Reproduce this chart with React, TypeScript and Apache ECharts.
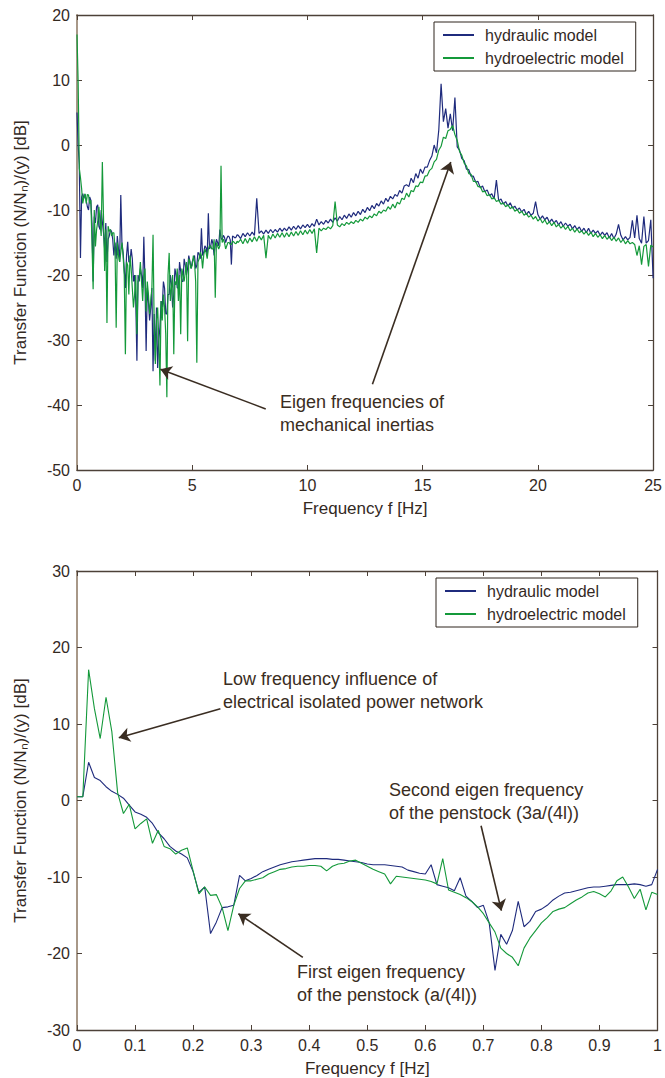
import React, { useEffect, useRef } from "react";
import * as echarts from "echarts";

// ---------- data ----------
// upper plot, 0 .. 6.95 Hz every 0.05 Hz (dense, noisy region)
const TOP_LOW_START = 0;
const TOP_LOW_STEP = 0.05;
const topHydraulicLow = [
  5, 0, -3, -17.4, -8, -7.5, -8.2, -7.6, -8.5, -9.5, -10, -8, -8.5, -12, -21, -11, -12, -9.5, -9.2, -12.5,
  -13, -10, -11.8, -13.5, -16, -12, -18, -14.5, -14, -13, -13.3, -14.5, -17, -15, -17.5, -14, -16, -18, -7.7, -15,
  -16.5, -19, -22, -17, -14.9, -18, -18, -16, -17.5, -21, -20, -24, -33.2, -20, -21, -19, -20, -22, -14.1, -21,
  -31.7, -22, -24, -27, -25, -22, -34.8, -26, -33.2, -25, -34.3, -30, -28, -24, -25, -21, -22, -26, -26, -23,
  -23, -20, -21.4, -25, -23, -19, -20, -22, -22, -18, -19.4, -21, -21, -17.5, -18.5, -20, -19, -17, -17.9, -19,
  -18, -17.5, -17, -19, -18.5, -16.5, -16.8, -17.5, -12.8, -17, -16.5, -15.5, -15.8, -17, -10.5, -16, -15.6, -14.5, -15.2, -17,
  -15.4, -14.5, -15, -15.5, -13, -14.3, -14.6, -13.9, -14.2, -15, -14.4, -14, -14.1, -14.6, -18.4, -14, -14.1, -14.3, -14.2, -13.8,
];
const topHydroelectricLow = [
  17, 9.6, -3.6, -5, -6.7, -9, -8, -7.5, -9, -7.6, -7.7, -9, -8.5, -15, -22.2, -10, -15.6, -13, -11.8, -9.5,
  -12, -14, -2.6, -11, -19.4, -13, -27.4, -12.5, -13.3, -13, -14, -13.5, -13.5, -16, -28.1, -15, -17, -18, -16.5, -15,
  -17, -20, -32.2, -18, -18.5, -23, -17, -19, -22, -25, -23, -20, -29.1, -21, -20.5, -18, -21, -24, -20, -19,
  -25.6, -21, -23, -26, -24, -22, -13.8, -28, -33.7, -27, -25, -30, -37, -24, -27, -23, -25, -29, -38.8, -20,
  -16.6, -24, -22, -20, -32.2, -21, -21.5, -19, -24, -20, -29.1, -19, -20, -21, -19.5, -18, -30.2, -17.5, -18, -19,
  -18.5, -17, -18, -21, -33.5, -18, -17.5, -16.5, -17, -19, -16.9, -16, -16.5, -17.5, -16, -15.5, -15.5, -16, -16, -14.5,
  -23.5, -15, -15.5, -16, -15.5, -3.2, -15, -14.5, -15, -16, -15.5, -15, -15, -15.3, -15.3, -14.8, -14.9, -15.1, -15.2, -14.8,
];
// upper plot, 7.0 .. 25.0 Hz every 0.1 Hz
const TOP_HIGH_START = 7;
const TOP_HIGH_STEP = 0.1;
const topHydraulicHigh = [
  -13.9, -14.4, -13.6, -14.1, -13.5, -14, -13.4, -13.9, -8.2, -13.6,
  -13.2, -13.7, -13.1, -13.6, -13, -13.5, -13, -13.4, -12.8, -13.3,
  -12.8, -13.2, -12.6, -13.1, -12.5, -13, -12.4, -12.9, -12.3, -12.7,
  -12.2, -12.7, -12.1, -12.5, -11.4, -12.3, -11.8, -12.2, -11.6, -12,
  -11.4, -11.9, -11.2, -11.7, -11, -11.5, -10.8, -11.3, -10.6, -11.1,
  -10.4, -10.9, -10.2, -10.7, -9.9, -10.4, -9.6, -10.1, -9.3, -9.8,
  -9, -9.4, -8.6, -9.1, -8.2, -8.7, -7.9, -8.3, -7.6, -7.9,
  -7, -7.4, -6.3, -6.1, -6.4, -5.1, -5.8, -4.4, -5.1, -3.7,
  -4.4, -3.4, -3.4, -2.4, -1.7, 0, -1.2, 2.3, 9.4, 3.6,
  5.6, 2.6, 4.8, 2.2, 7.3, -0.3, -0.8, -2.1, -2.4, -3.7,
  -3.8, -4.8, -4.8, -5.7, -5.6, -6.6, -6.3, -7.2, -6.9, -7.8,
  -7.5, -8.3, -5.4, -8.6, -8.3, -9.1, -8.7, -9.4, -8.9, -9.7,
  -9.4, -10, -9.7, -10.3, -9.9, -10.7, -10.2, -10.8, -10.5, -8.7,
  -10.7, -11.4, -10.9, -11.5, -11.1, -11.9, -11.4, -12, -11.6, -12.3,
  -11.8, -12.5, -12, -12.5, -12.2, -12.9, -12.4, -13, -12.6, -13.3,
  -12.8, -13.5, -12.8, -13.6, -13.1, -13.6, -13.2, -13.9, -13.4, -13.9,
  -13.5, -14.3, -13.6, -14.4, -13.7, -12.2, -13.9, -14.6, -14.1, -14.6,
  -14.2, -11.6, -14.3, -10.8, -14.4, -15.1, -11, -15.1, -14.7, -11.5,
  -20.5,
];
const topHydroelectricHigh = [
  -15, -14.5, -15.2, -14.4, -15.1, -14.3, -14.9, -14.1, -14.8, -14,
  -14.6, -13.9, -17.4, -13.9, -14.5, -13.7, -14.3, -13.6, -14.2, -13.5,
  -14.2, -13.5, -14.1, -13.4, -14, -13.3, -13.9, -13.2, -13.8, -13.1,
  -13.7, -13, -13.6, -12.9, -16.6, -12.8, -13.2, -12.8, -13, -12.6,
  -12.9, -12.4, -8.7, -12.3, -12.6, -12.1, -12.4, -11.9, -12.2, -11.8,
  -12.1, -11.6, -11.9, -11.4, -11.7, -11.1, -11.4, -10.9, -11.2, -10.6,
  -10.9, -10.2, -10.5, -10, -10.2, -9.5, -9.9, -9.1, -9.7, -8.8,
  -9.1, -8.2, -8.4, -7.4, -8, -7, -7.2, -6.3, -6.4, -5.7,
  -5.8, -4.8, -4.7, -3.9, -3.6, -2.6, -2.2, -0.8, -0.2, 1.2,
  1, 2.2, 2.4, 3, 1.6, 0.7, -1, -1.6, -2.8, -3.2,
  -4.4, -4.5, -5.6, -5.6, -6.4, -6.4, -7.2, -7.1, -7.8, -7.6,
  -8.3, -8.1, -8.7, -8.5, -9.1, -8.9, -9.5, -9.2, -9.8, -9.5,
  -10.2, -9.9, -10.5, -10.2, -10.8, -10.5, -11.1, -10.8, -11.4, -11,
  -11.7, -11.3, -12, -11.5, -12.2, -11.8, -12.4, -11.9, -12.6, -12.2,
  -12.8, -12.4, -13, -12.5, -13.2, -12.8, -13.4, -12.9, -13.5, -13.2,
  -13.7, -13.3, -13.9, -13.4, -14.1, -13.6, -14.2, -13.8, -14.4, -13.9,
  -14.5, -14.1, -14.7, -14.2, -14.8, -14.3, -15, -14.5, -15.2, -14.7,
  -15.2, -15, -15.3, -17, -15.5, -18.4, -15.6, -15.3, -18.7, -15.4,
  -15.7,
];

// lower plot, 0 .. 1 Hz every 0.01 Hz
const BOTTOM_START = 0;
const BOTTOM_STEP = 0.01;
const bottomHydraulic = [
  0.5, 0.5, 5, 3, 2.6, 1.8, 1.2, 0.8, 0.3, -0.6,
  -1.5, -1.8, -2.2, -3, -4.2, -5, -6, -6.6, -7, -7.5,
  -9.3, -12, -11.3, -17.4, -15.9, -14, -13.9, -13.7, -9.8, -10.5,
  -10.2, -9.8, -9.3, -9, -8.7, -8.4, -8.2, -8, -7.9, -7.8,
  -7.7, -7.6, -7.6, -7.6, -7.7, -7.7, -7.8, -7.9, -8, -8.1,
  -8.3, -8.4, -8.4, -8.4, -8.5, -8.6, -8.7, -9.1, -9.3, -9.5,
  -9.6, -8.4, -11, -11.2, -11.4, -11.8, -10.1, -12.5, -13.2, -14,
  -13.7, -16, -22.2, -17.5, -18.8, -17, -13.2, -16.5, -15.8, -14.5,
  -14.2, -13.7, -13, -12.5, -12.1, -12, -11.8, -11.6, -11.4, -11.3,
  -11.3, -11.2, -11.1, -11, -11, -11, -10.9, -11, -11.2, -11,
  -9,
];
const bottomHydroelectric = [
  0.5, 0.5, 17.1, 12, 8.1, 13.5, 9, 1, -1.7, -0.5,
  -3.7, -3, -2.4, -5.6, -3.9, -6, -6.3, -7, -6.5, -6.2,
  -9.2, -12.2, -11.3, -12.4, -12.3, -14, -17, -13.7, -11.5, -10.5,
  -10.5, -10.3, -10.1, -9.6, -9.3, -9, -8.9, -8.7, -8.6, -8.6,
  -8.5, -8.5, -8.6, -9.2, -8.6, -8.3, -8.2, -7.9, -7.8, -8.2,
  -8.6, -9, -9.3, -9.6, -10.9, -9.9, -10, -10.1, -10.2, -10.3,
  -10.4, -10.6, -10.9, -7.6, -11.7, -12, -12.3, -12.7, -13.2, -13.9,
  -14.8, -16, -17.2, -19.3, -20, -20.5, -21.6, -19.3, -18, -17,
  -16, -15.3, -14.5, -14.2, -14, -13.5, -13, -12.6, -12.1, -11.9,
  -12.2, -12.6, -11.8, -10.5, -10, -11.3, -12.8, -11.6, -14.3, -12,
  -12.3,
];

const seriesNames = ["hydraulic model", "hydroelectric model"];

// annotation arrows: [tail, head] in data coordinates
const topArrows = [
  [[8.19, -40.6], [3.62, -34.5]],
  [[12.82, -36.8], [16.22, -2.6]],
];
const bottomArrows = [
  [[0.247, 12.0], [0.072, 8.2]],
  [[0.696, -3.3], [0.731, -14.4]],
  [[0.389, -20.5], [0.278, -14.8]],
];

// ---------- styling ----------
const FONT = "'Liberation Sans', Arial, Helvetica, sans-serif";
const BLUE = "#1f2b7d";
const GREEN = "#14993a";
const AXIS = "#4d4138";
const TEXT = "#33291f";
const ANNOT = "#3a2d22";

function toPairs(values: number[], start: number, step: number) {
  return values.map((v, i) => [Number((start + i * step).toFixed(4)), v]);
}

function makeArrows(list: number[][][]) {
  return list.map(([a, b]) => [{ coord: a }, { coord: b }]);
}

export default function App() {
  const ref = useRef<HTMLDivElement>(null);

  useEffect(() => {
    document.body.style.margin = "0";
    if (!ref.current) return;
    const chart = echarts.init(ref.current, undefined, { renderer: "svg" });

    const grids = [
      { left: 77, top: 15, width: 581, height: 455 },
      { left: 77, top: 571, width: 585, height: 459 },
    ];

    const tickLabel = { fontFamily: FONT, fontSize: 16, color: TEXT };

    const xBottom = (gi: number, max: number, interval: number) => ({
      gridIndex: gi,
      type: "value",
      min: 0,
      max,
      interval,
      position: "bottom",
      name: "Frequency f [Hz]",
      nameLocation: "middle",
      nameGap: 30,
      nameTextStyle: { fontFamily: FONT, fontSize: 17, color: TEXT },
      axisLine: { show: true, onZero: false, lineStyle: { color: AXIS, width: 1.3 } },
      axisTick: { show: true, inside: true, length: 5, lineStyle: { color: AXIS } },
      axisLabel: { ...tickLabel, margin: 7 },
      splitLine: { show: false },
    });
    const xTop = (gi: number, max: number, interval: number) => ({
      gridIndex: gi,
      type: "value",
      min: 0,
      max,
      interval,
      position: "top",
      axisLine: { show: true, onZero: false, lineStyle: { color: AXIS, width: 1.3 } },
      axisTick: { show: true, inside: true, length: 5, lineStyle: { color: AXIS } },
      axisLabel: { show: false },
      splitLine: { show: false },
    });
    const yLeft = (gi: number, min: number, max: number) => ({
      gridIndex: gi,
      type: "value",
      min,
      max,
      interval: 10,
      position: "left",
      name: "Transfer Function (N/N\u2099)/(y) [dB]",
      nameLocation: "middle",
      nameGap: 48,
      nameTextStyle: { fontFamily: FONT, fontSize: 17, color: TEXT },
      axisLine: { show: true, onZero: false, lineStyle: { color: "#a89888", width: 2 } },
      axisTick: { show: true, inside: true, length: 5, lineStyle: { color: AXIS } },
      axisLabel: { ...tickLabel, margin: 7 },
      splitLine: { show: false },
    });
    const yRight = (gi: number, min: number, max: number) => ({
      gridIndex: gi,
      type: "value",
      min,
      max,
      interval: 10,
      position: "right",
      axisLine: { show: true, onZero: false, lineStyle: { color: AXIS, width: 1.3 } },
      axisTick: { show: true, inside: true, length: 5, lineStyle: { color: AXIS } },
      axisLabel: { show: false },
      splitLine: { show: false },
    });

    const arrowMark = (list: number[][][]) => ({
      silent: true,
      symbol: ["none", "arrow"],
      symbolSize: 11,
      label: { show: false },
      emphasis: { disabled: true },
      lineStyle: { color: ANNOT, width: 1.6, type: "solid", opacity: 1 },
      itemStyle: { color: ANNOT },
      data: makeArrows(list),
    });

    const legend = (left: number, top: number) => ({
      orient: "vertical",
      left,
      top,
      data: seriesNames,
      icon: "rect",
      itemWidth: 31,
      itemHeight: 2,
      itemGap: 7,
      padding: [5, 12, 5, 9],
      borderColor: "#2e251d",
      borderWidth: 1,
      backgroundColor: "#ffffff",
      borderRadius: 0,
      textStyle: { fontFamily: FONT, fontSize: 16, color: TEXT, padding: [0, 0, 0, 6] },
    });

    const annotStyle = (x: number, y: number, text: string) => ({
      type: "text",
      x,
      y,
      silent: true,
      style: {
        text,
        font: `18px ${FONT}`,
        fill: ANNOT,
        lineHeight: 23,
        verticalAlign: "top",
        align: "left",
      },
    });

    const lineSeries = (name: string, axis: number, data: number[][], color: string, width: number, extra: any = {}) => ({
      type: "line",
      name,
      xAxisIndex: axis,
      yAxisIndex: axis,
      data,
      symbol: "none",
      color,
      lineStyle: { color, width },
      ...extra,
    });

    const option: any = {
      animation: false,
      backgroundColor: "#ffffff",
      grid: grids,
      legend: [legend(434, 22), legend(436, 578)],
      xAxis: [xBottom(0, 25, 5), xTop(0, 25, 5), xBottom(1, 1, 0.1), xTop(1, 1, 0.1)],
      yAxis: [yLeft(0, -50, 20), yRight(0, -50, 20), yLeft(1, -30, 30), yRight(1, -30, 30)],
      series: [
        lineSeries(
          seriesNames[0],
          0,
          [
            ...toPairs(topHydraulicLow, TOP_LOW_START, TOP_LOW_STEP),
            ...toPairs(topHydraulicHigh, TOP_HIGH_START, TOP_HIGH_STEP),
          ],
          BLUE,
          1.2
        ),
        lineSeries(
          seriesNames[1],
          0,
          [
            ...toPairs(topHydroelectricLow, TOP_LOW_START, TOP_LOW_STEP),
            ...toPairs(topHydroelectricHigh, TOP_HIGH_START, TOP_HIGH_STEP),
          ],
          GREEN,
          1.2,
          { markLine: arrowMark(topArrows) }
        ),
        lineSeries(seriesNames[0], 2, toPairs(bottomHydraulic, BOTTOM_START, BOTTOM_STEP), BLUE, 1.1),
        lineSeries(seriesNames[1], 2, toPairs(bottomHydroelectric, BOTTOM_START, BOTTOM_STEP), GREEN, 1.1, {
          markLine: arrowMark(bottomArrows),
        }),
      ],
      graphic: [
        annotStyle(280, 390, "Eigen frequencies of\nmechanical inertias"),
        annotStyle(223, 667, "Low frequency influence of\nelectrical isolated power network"),
        annotStyle(389, 778, "Second eigen frequency\nof the penstock (3a/(4l))"),
        annotStyle(297, 960, "First eigen frequency\nof the penstock (a/(4l))"),
      ],
    };

    chart.setOption(option);
    return () => chart.dispose();
  }, []);

  return <div ref={ref} style={{ width: 665, height: 1078 }} />;
}
